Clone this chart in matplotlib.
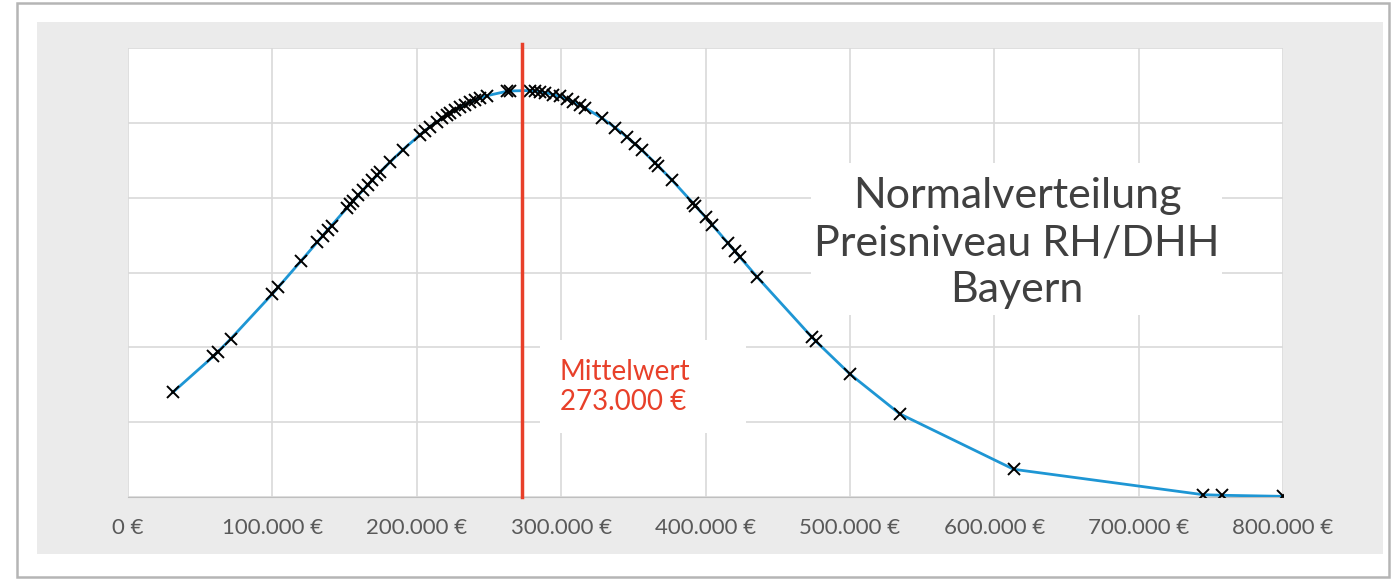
# -*- coding: utf-8 -*-
# Normalverteilung Preisniveau RH/DHH Bayern
import matplotlib
matplotlib.use('Agg')
import matplotlib.pyplot as plt
from matplotlib.patches import Rectangle

plt.rcParams['font.family'] = ['Lato', 'DejaVu Sans']

# Kaufpreise (EUR) und Dichte (x 1e-6)
preise = [31000, 59000, 62000, 71000, 100000, 104000, 120000, 131000, 135000,
          138500, 141000, 151500, 154000, 156000, 159500, 163000, 166000,
          169000, 172500, 174500, 181500, 190500, 202000, 205500, 209000,
          214000, 217500, 221000, 223000, 226500, 230000, 233500, 237000,
          240500, 244000, 248500, 262500, 264500, 278500, 282000, 285500,
          289000, 294500, 299000, 304000, 308500, 313000, 316500, 328500,
          337500, 345500, 351000, 356000, 365000, 367000, 377000, 391500,
          393000, 400000, 404500, 415500, 420500, 424000, 435500, 473500,
          476500, 500000, 534500, 613500, 744500, 757500, 800000]
dichte = [0.699, 0.939, 0.968, 1.055, 1.357, 1.401, 1.579, 1.702, 1.747,
          1.786, 1.814, 1.930, 1.957, 1.978, 2.016, 2.053, 2.084,
          2.115, 2.150, 2.170, 2.238, 2.321, 2.418, 2.445, 2.472,
          2.507, 2.530, 2.553, 2.565, 2.585, 2.604, 2.621, 2.638,
          2.652, 2.666, 2.681, 2.711, 2.713, 2.716, 2.713, 2.708,
          2.702, 2.689, 2.676, 2.658, 2.640, 2.619, 2.601, 2.530,
          2.468, 2.406, 2.360, 2.317, 2.233, 2.214, 2.115, 1.962,
          1.946, 1.869, 1.820, 1.697, 1.641, 1.601, 1.473, 1.070,
          1.040, 0.822, 0.556, 0.185, 0.0156, 0.0117, 0.0043]
mittelwert = 273000

x_ticks = [0, 100000, 200000, 300000, 400000, 500000, 600000, 700000, 800000]
x_labels = ['0 €', '100.000 €', '200.000 €', '300.000 €', '400.000 €',
            '500.000 €', '600.000 €', '700.000 €', '800.000 €']
y_ticks = [0, 0.5, 1.0, 1.5, 2.0, 2.5, 3.0]

fig = plt.figure(figsize=(13.93, 5.81), dpi=100)
fig.patch.set_facecolor('white')

# Rahmen + grauer Diagrammbereich
fig.patches.append(Rectangle((17/1393, 4/581), 1372/1393, 574/581,
                             transform=fig.transFigure, facecolor='white',
                             edgecolor='#b5b5b5', lw=1.8, zorder=-3))
fig.patches.append(Rectangle((37/1393, 27/581), 1346/1393, 532/581,
                             transform=fig.transFigure, facecolor='#ebebeb',
                             edgecolor='none', zorder=-2))

ax = fig.add_axes([128/1393, 84/581, 1155/1393, 449/581])
ax.set_facecolor('white')
ax.set_xlim(0, 800000)
ax.set_ylim(0, 3.0)
ax.set_xticks(x_ticks)
ax.set_xticklabels(x_labels, color='#595959', fontsize=16)
ax.set_yticks(y_ticks)
ax.set_yticklabels([])
ax.tick_params(length=0, pad=15)
ax.grid(True, color='#d9d9d9', lw=1.2)
ax.set_axisbelow(True)
for s in ['left', 'right', 'top']:
    ax.spines[s].set_visible(False)
ax.spines['bottom'].set_color('#bfbfbf')

# weisse Hintergruende der Beschriftungen
ax.add_patch(Rectangle((0.5913, 0.4053), 0.3559, 0.3386, transform=ax.transAxes,
                       facecolor='white', edgecolor='none', zorder=1))
ax.add_patch(Rectangle((0.3567, 0.1425), 0.1784, 0.2072, transform=ax.transAxes,
                       facecolor='white', edgecolor='none', zorder=1))

ax.plot(preise, dichte, color='#1e96d4', lw=2, zorder=3)
ax.plot(preise, dichte, ls='none', marker='x', color='black', ms=8, mew=1.4,
        zorder=4)

ax.axvline(mittelwert, ymin=0, ymax=1.01, color='#e8402a', lw=2.5,
           clip_on=False, zorder=5)

ax.text(0.7697, 0.5657, 'Normalverteilung\nPreisniveau RH/DHH\nBayern',
        transform=ax.transAxes, ha='center', va='center', fontsize=31,
        color='#404040', linespacing=1.3, zorder=2)
ax.text(0.374, 0.245, 'Mittelwert\n273.000 €', transform=ax.transAxes,
        ha='left', va='center', fontsize=20, color='#e8402a',
        linespacing=1.15, zorder=2)

fig.savefig('out.png', dpi=100)
